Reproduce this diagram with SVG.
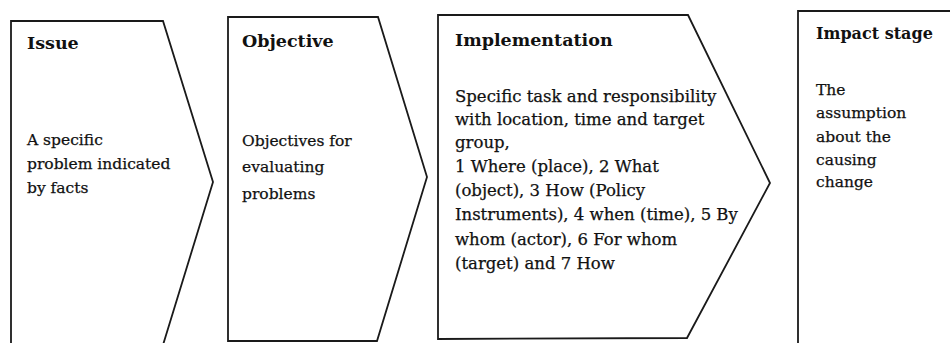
<svg xmlns="http://www.w3.org/2000/svg" width="950" height="343" viewBox="0 0 950 343">
<style>
.shape{fill:#fff;stroke:#1a1a1a;stroke-width:1.8;stroke-linejoin:miter}
.title{font-family:"DejaVu Serif","Liberation Serif",serif;font-weight:bold;font-size:17.5px;fill:#111}
.body{font-family:"DejaVu Serif","Liberation Serif",serif;font-size:15.5px;fill:#111;stroke:#111;stroke-width:0.25}
.impl{font-size:16.5px}
</style>
<rect x="0" y="0" width="950" height="343" fill="#fff"/>
<g id="connectors"></g>
<g id="issue">
<path class="shape" d="M11,21 L163,21 L213,182 L163,345 L11,345 Z"/>
<text class="title" x="27" y="49">Issue</text>
<text class="body" x="27" y="145">A specific</text>
<text class="body" x="27" y="169">problem indicated</text>
<text class="body" x="27" y="193">by facts</text>
</g>
<g id="objective">
<path class="shape" d="M228,17 L378,17 L427,177 L377,341 L228,341 Z"/>
<text class="title" x="242" y="47">Objective</text>
<text class="body" x="242" y="146">Objectives for</text>
<text class="body" x="242" y="172">evaluating</text>
<text class="body" x="242" y="199">problems</text>
</g>
<g id="implementation">
<path class="shape" d="M438,15 L688,15 L770,183 L687,338 L438,339 Z"/>
<text class="title" x="455" y="46">Implementation</text>
<text class="body impl" x="455" y="102">Specific task and responsibility</text>
<text class="body impl" x="455" y="125">with location, time and target</text>
<text class="body impl" x="455" y="148">group,</text>
<text class="body impl" x="455" y="172">1 Where (place), 2 What</text>
<text class="body impl" x="455" y="196">(object), 3 How (Policy</text>
<text class="body impl" x="455" y="220">Instruments), 4 when (time), 5 By</text>
<text class="body impl" x="455" y="245">whom (actor), 6 For whom</text>
<text class="body impl" x="455" y="269">(target) and 7 How</text>
</g>
<g id="impact">
<path class="shape" d="M798,346 L798,11 L953,11 L953,346 Z"/>
<text class="title" x="816" y="39" style="font-size:16px">Impact stage</text>
<text class="body" x="816" y="95">The</text>
<text class="body" x="816" y="118">assumption</text>
<text class="body" x="816" y="142">about the</text>
<text class="body" x="816" y="165">causing</text>
<text class="body" x="816" y="187">change</text>
</g>
</svg>
